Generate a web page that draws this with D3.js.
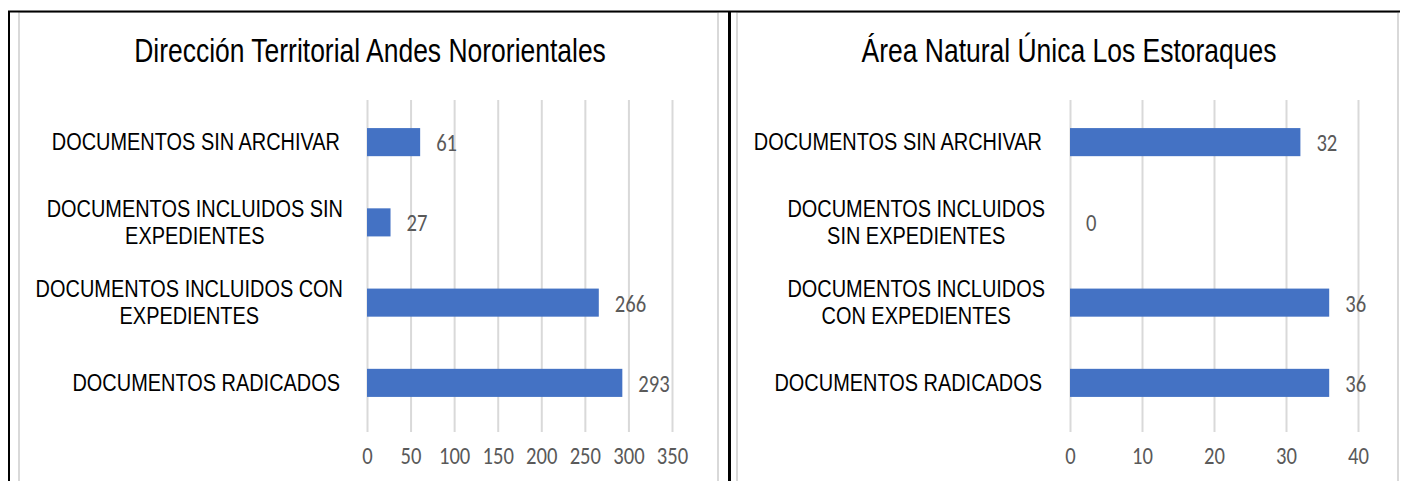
<!DOCTYPE html>
<html>
<head>
<meta charset="utf-8">
<script src="https://cdn.jsdelivr.net/npm/d3@7"></script>
<style>
  html, body { margin: 0; padding: 0; background: #fff; }
  svg { display: block; }
  .cat { font-family: "Liberation Sans", Arial, sans-serif; fill: #000; }
  .title { font-family: "Liberation Sans", Arial, sans-serif; fill: #000; }
  .num { font-family: Carlito, Calibri, Lato, sans-serif; fill: #595959; }
</style>
</head>
<body>
<svg id="chart" width="1402" height="481"></svg>
<script>
// ---- data ----
const categories = ["SIN ARCHIVAR", "INCLUIDOS SIN EXP", "INCLUIDOS CON EXP", "RADICADOS"];
const leftTitle = "Dirección Territorial Andes Nororientales";
const rightTitle = "Área Natural Única Los Estoraques";
const leftLabels = [["DOCUMENTOS SIN ARCHIVAR"], ["DOCUMENTOS INCLUIDOS SIN", "EXPEDIENTES"], ["DOCUMENTOS INCLUIDOS CON", "EXPEDIENTES"], ["DOCUMENTOS RADICADOS"]];
const rightLabels = [["DOCUMENTOS SIN ARCHIVAR"], ["DOCUMENTOS INCLUIDOS", "SIN EXPEDIENTES"], ["DOCUMENTOS INCLUIDOS", "CON EXPEDIENTES"], ["DOCUMENTOS RADICADOS"]];
const leftValues = [61, 27, 266, 293];
const rightValues = [32, 0, 36, 36];
const leftTicks = [0, 50, 100, 150, 200, 250, 300, 350];
const rightTicks = [0, 10, 20, 30, 40];

const svg = d3.select("#chart");
const NUM_SX = 0.86;
const TXT_SX = 0.82;

// frames
const frame = svg.append("g");
frame.append("rect").attr("x", 19).attr("y", 12).attr("width", 699).attr("height", 480)
  .attr("fill", "none").attr("stroke", "#d9d9d9").attr("stroke-width", 2);
frame.append("rect").attr("x", 737).attr("y", 12).attr("width", 661).attr("height", 480)
  .attr("fill", "none").attr("stroke", "#d9d9d9").attr("stroke-width", 2);
frame.append("line").attr("x1", 8).attr("x2", 1400).attr("y1", 11.5).attr("y2", 11.5)
  .attr("stroke", "#000").attr("stroke-width", 2);
frame.append("line").attr("x1", 9).attr("x2", 9).attr("y1", 11).attr("y2", 481)
  .attr("stroke", "#000").attr("stroke-width", 2);
frame.append("line").attr("x1", 729.5).attr("x2", 729.5).attr("y1", 11).attr("y2", 481)
  .attr("stroke", "#000").attr("stroke-width", 3);

function drawChart(opt) {
  const g = svg.append("g");
  const x = d3.scaleLinear().domain([0, opt.max]).range([opt.x0, opt.x1]);
  const y = d3.scaleBand().domain(categories).range([102, 423]).paddingInner(0.65).paddingOuter(0.325);

  // title
  g.append("text").attr("class", "title")
    .attr("transform", `translate(${opt.titleX},62) scale(${TXT_SX},1)`)
    .attr("text-anchor", "middle").style("font-size", "32.3px").text(opt.title);

  // gridlines via axis
  const grid = g.append("g").attr("transform", "translate(0,432)")
    .call(d3.axisBottom(x).tickValues(opt.ticks).tickSize(-332).tickFormat(""));
  grid.select(".domain").remove();
  grid.selectAll(".tick line").attr("stroke", "#d9d9d9").attr("stroke-width", 2);

  // tick labels
  const ax = g.append("g").attr("transform", "translate(0,464)")
    .call(d3.axisBottom(x).tickValues(opt.ticks).tickSize(0).tickPadding(0));
  ax.select(".domain").remove();
  ax.selectAll(".tick text").attr("class", "num").attr("y", 0).attr("dy", null)
    .attr("transform", `scale(${NUM_SX},1)`)
    .style("font-size", "24px").attr("fill", "#595959");

  // bars
  g.selectAll("rect.bar").data(opt.values).join("rect").attr("class", "bar")
    .attr("x", x(0)).attr("y", (d, i) => y(categories[i]))
    .attr("width", d => x(d) - x(0)).attr("height", y.bandwidth())
    .attr("fill", "#4472c4");

  // value labels
  g.selectAll("text.val").data(opt.values).join("text").attr("class", "val num")
    .attr("transform", (d, i) => `translate(${x(d) + 16},${y(categories[i]) + y.bandwidth() / 2 + 9}) scale(${NUM_SX},1)`)
    .style("font-size", "24px").text(d => d);

  // category labels
  opt.labels.forEach((lines, i) => {
    const cy = y(categories[i]) + y.bandwidth() / 2;
    const t = g.append("text").attr("class", "cat").style("font-size", "24.3px");
    const lh = 27;
    const startY = cy + 8 - (lines.length - 1) * lh / 2;
    const spans = lines.map((ln, j) => t.append("tspan").attr("x", 0).attr("y", startY + j * lh)
      .attr("text-anchor", "middle").text(ln));
    const bw = d3.max(spans.map(s => s.node().getComputedTextLength())) * TXT_SX;
    const right = opt.labelRight + (lines.length > 1 ? 3 : 0);
    t.attr("transform", `translate(${right - bw / 2},0) scale(${TXT_SX},1)`);
  });
}

drawChart({ title: leftTitle, titleX: 370, values: leftValues, labels: leftLabels, ticks: leftTicks,
  max: 350, x0: 367, x1: 672, labelRight: 340 });
drawChart({ title: rightTitle, titleX: 1069, values: rightValues, labels: rightLabels, ticks: rightTicks,
  max: 40, x0: 1070, x1: 1358, labelRight: 1042 });
</script>
</body>
</html>
